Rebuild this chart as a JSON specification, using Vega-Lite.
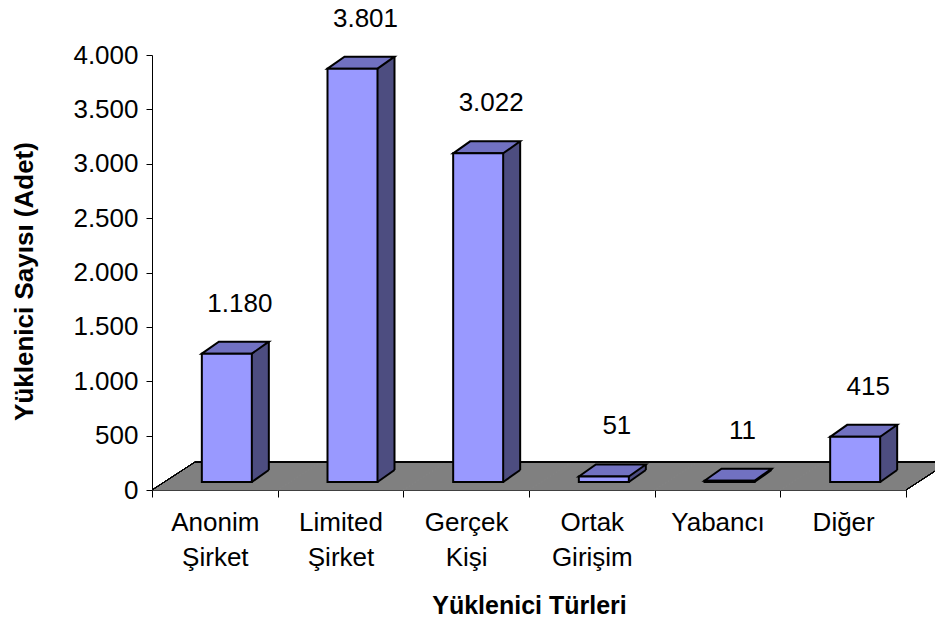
{
  "$schema": "https://vega.github.io/schema/vega-lite/v6.json",
  "width": 754,
  "height": 435,
  "autosize": {"type": "none"},
  "padding": {"left": 152, "top": 55, "right": 29, "bottom": 134},
  "background": "white",
  "config": {
    "view": {"stroke": null},
    "font": "Liberation Sans",
    "locale": {"number": {"decimal": ",", "thousands": ".", "grouping": [3], "currency": ["", " TL"]}},
    "axis": {"grid": false, "domainColor": "black", "tickColor": "black", "labelColor": "black", "titleColor": "black", "labelFont": "Liberation Sans", "titleFont": "Liberation Sans", "domainWidth": 1, "tickWidth": 1}
  },
  "data": {
    "values": [
      {"tur": "Anonim Şirket", "adet": 1180},
      {"tur": "Limited Şirket", "adet": 3801},
      {"tur": "Gerçek Kişi", "adet": 3022},
      {"tur": "Ortak Girişim", "adet": 51},
      {"tur": "Yabancı", "adet": 11},
      {"tur": "Diğer", "adet": 415}
    ]
  },
  "encoding": {
    "x": {
      "field": "tur", "type": "nominal", "sort": null,
      "scale": {"type": "band", "paddingInner": 0, "paddingOuter": 0},
      "axis": {
        "title": "Yüklenici Türleri",
        "labelAngle": 0,
        "labelExpr": "split(datum.label, ' ')",
        "labelFontSize": 26,
        "labelLineHeight": 35,
        "labelBaseline": "top",
        "labelPadding": 12,
        "tickSize": 7,
        "tickBand": "extent",
        "titleFontSize": 25,
        "titleFontWeight": "bold",
        "titleBaseline": "alphabetic",
        "titleY": 123
      }
    },
    "y": {
      "field": "adet", "type": "quantitative",
      "scale": {"domain": [0, 4000], "nice": false},
      "axis": {
        "title": "Yüklenici Sayısı (Adet)",
        "values": [0, 500, 1000, 1500, 2000, 2500, 3000, 3500, 4000],
        "format": ",d",
        "labelFontSize": 26,
        "tickSize": 6,
        "labelPadding": 8,
        "titleFontSize": 26,
        "titleFontWeight": "bold",
        "titleAngle": -90,
        "titleAlign": "center",
        "titleBaseline": "bottom",
        "titleX": -115,
        "titleY": 226
      }
    }
  },
  "layer": [
    {
      "mark": {"type": "point", "shape": "M-62.83,0L-19.83,-28L105.83,-28L62.83,0Z", "size": 4, "filled": true, "fill": "#808080", "stroke": "#808080", "strokeWidth": 1, "opacity": 1},
      "encoding": {
        "y": {"datum": 0, "type": "quantitative"}
      }
    },
    {
      "mark": {"type": "rule", "xOffset": -19.83, "x2Offset": 105.83, "yOffset": -28, "y2Offset": -28, "color": "black", "strokeWidth": 1},
      "encoding": {
        "x": {"datum": "Anonim Şirket", "type": "nominal"},
        "x2": {"datum": "Diğer"},
        "y": {"datum": 0, "type": "quantitative"},
        "y2": {"datum": 0}
      }
    },
    {
      "mark": {"type": "rule", "xOffset": -62.83, "x2Offset": -19.83, "yOffset": 0, "y2Offset": -28, "color": "black", "strokeWidth": 1},
      "encoding": {
        "x": {"datum": "Anonim Şirket", "type": "nominal"},
        "x2": {"datum": "Anonim Şirket"},
        "y": {"datum": 0, "type": "quantitative"},
        "y2": {"datum": 0}
      }
    },
    {
      "mark": {"type": "rule", "xOffset": 62.83, "x2Offset": 105.83, "yOffset": 0, "y2Offset": -28, "color": "black", "strokeWidth": 1},
      "encoding": {
        "x": {"datum": "Diğer", "type": "nominal"},
        "x2": {"datum": "Diğer"},
        "y": {"datum": 0, "type": "quantitative"},
        "y2": {"datum": 0}
      }
    },
    {
      "mark": {"type": "bar", "width": 50, "xOffset": 29, "yOffset": -20, "y2Offset": -20, "fill": "#4D4D80", "strokeWidth": 0},
      "encoding": {"y2": {"datum": 0}}
    },
    {
      "mark": {"type": "point", "shape": "M-13,0L4,-12L54,-12L37,0Z", "size": 4, "filled": true, "fill": "#4D4D80", "strokeWidth": 0, "opacity": 1, "yOffset": -8},
      "encoding": {
        "y": {"datum": 0, "type": "quantitative"}
      }
    },
    {
      "mark": {"type": "rule", "xOffset": 54, "yOffset": -20, "y2Offset": -20, "color": "black", "strokeWidth": 2},
      "encoding": {"y2": {"datum": 0}}
    },
    {
      "mark": {"type": "rule", "xOffset": 37, "x2Offset": 54, "yOffset": -8, "y2Offset": -20, "color": "black", "strokeWidth": 2},
      "encoding": {
        "x2": {"field": "tur"},
        "y": {"datum": 0, "type": "quantitative"},
        "y2": {"datum": 0}
      }
    },
    {
      "mark": {"type": "point", "shape": "M-13,0L4,-12L54,-12L37,0Z", "size": 4, "filled": true, "fill": "#7171C1", "stroke": "black", "strokeWidth": 2, "opacity": 1, "yOffset": -8},
      "encoding": {}
    },
    {
      "mark": {"type": "bar", "width": 50, "xOffset": 12, "yOffset": -8, "y2Offset": -8, "fill": "#9999FF", "stroke": "black", "strokeWidth": 2},
      "encoding": {"y2": {"datum": 0}}
    },
    {
      "mark": {"type": "text", "dx": 25, "dy": -50, "baseline": "alphabetic", "align": "center", "fontSize": 26, "color": "black"},
      "encoding": {
        "text": {"field": "adet", "type": "quantitative", "format": ","}
      }
    }
  ]
}
